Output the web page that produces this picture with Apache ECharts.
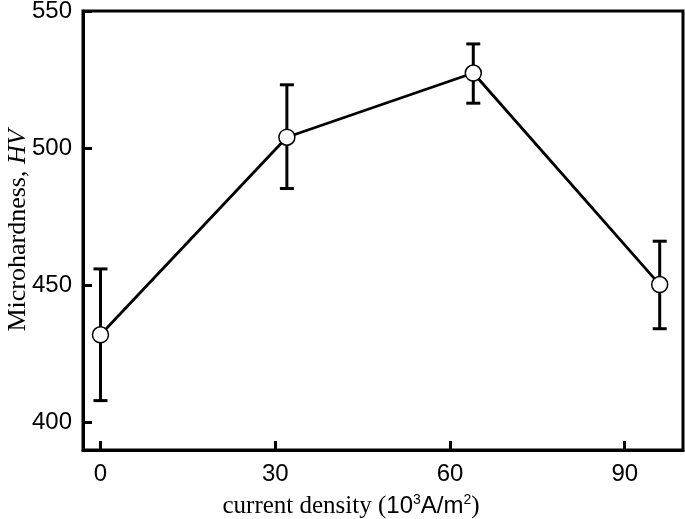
<!DOCTYPE html>
<html>
<head>
<meta charset="utf-8">
<script src="https://cdn.jsdelivr.net/npm/echarts@6/dist/echarts.min.js"></script>
<style>html,body{margin:0;padding:0;background:#fff;}#c{width:685px;height:519px;}</style>
</head>
<body>
<div id="c"></div>
<script>
var currentDensity = [0, 32, 64, 96];
var hardness = [432, 504, 527.4, 450.3];
var errLow = [408, 485.3, 516.4, 434.2];
var errHigh = [456, 523.1, 538, 466.1];
var xTicks = [0, 30, 60, 90];
var yTicks = [400, 450, 500, 550];

var chart = echarts.init(document.getElementById('c'), null, {renderer: 'canvas'});
var lineData = currentDensity.map(function (x, i) { return [x, hardness[i]]; });
var errData = currentDensity.map(function (x, i) { return [x, errLow[i], errHigh[i]]; });

var option = {
  animation: false,
  backgroundColor: '#fff',
  grid: {left: 83, right: 2, top: 11, bottom: 69, containLabel: false, outerBoundsMode: 'none',
    show: true, borderColor: '#000', borderWidth: 3, backgroundColor: 'transparent'},
  xAxis: {
    type: 'value', min: -3, max: 100,
    name: '{s|current density (}{a|10}{sup|3}{a|A/m}{sup|2}{s|)}',
    nameLocation: 'middle', nameGap: 43, nameMoveOverlap: false,
    nameTextStyle: {
      padding: [0, 64, 0, 0],
      rich: {
        s: {fontFamily: 'Liberation Serif', fontSize: 25, color: '#000'},
        a: {fontFamily: 'Liberation Sans', fontSize: 24, color: '#000'},
        sup: {fontFamily: 'Liberation Sans', fontSize: 14, color: '#000', verticalAlign: 'top', padding: [0, 0, 12, 0]}
      }
    },
    axisLine: {onZero: false, lineStyle: {color: '#000', width: 3}},
    axisTick: {inside: true, length: 9, lineStyle: {color: '#000', width: 3}, customValues: xTicks},
    axisLabel: {customValues: xTicks, color: '#000', fontFamily: 'Liberation Sans', fontSize: 24, margin: 12},
    splitLine: {show: false}
  },
  yAxis: {
    type: 'value', min: 390, max: 550,
    name: '{s|Microhardness, }{i|HV}',
    nameLocation: 'middle', nameGap: 52, nameRotate: 90, nameMoveOverlap: false,
    nameTextStyle: {
      rich: {
        s: {fontFamily: 'Liberation Serif', fontSize: 26, color: '#000'},
        i: {fontFamily: 'Liberation Serif', fontStyle: 'italic', fontSize: 26, color: '#000'}
      }
    },
    axisLine: {onZero: false, lineStyle: {color: '#000', width: 3}},
    axisTick: {inside: true, length: 9, lineStyle: {color: '#000', width: 3}, customValues: yTicks},
    axisLabel: {customValues: yTicks, color: '#000', fontFamily: 'Liberation Sans', fontSize: 24, margin: 11},
    splitLine: {show: false}
  },
  series: [
    {
      type: 'custom',
      z: 1,
      data: errData,
      renderItem: function (params, api) {
        var x = api.value(0);
        var lo = api.coord([x, api.value(1)]);
        var hi = api.coord([x, api.value(2)]);
        var hw = 7;
        var style = {stroke: '#000', lineWidth: 3, fill: null};
        return {
          type: 'group',
          children: [
            {type: 'line', shape: {x1: lo[0], y1: lo[1], x2: hi[0], y2: hi[1]}, style: style},
            {type: 'line', shape: {x1: lo[0] - hw, y1: lo[1], x2: lo[0] + hw, y2: lo[1]}, style: style},
            {type: 'line', shape: {x1: hi[0] - hw, y1: hi[1], x2: hi[0] + hw, y2: hi[1]}, style: style}
          ]
        };
      }
    },
    {
      type: 'line',
      z: 3,
      data: lineData,
      symbol: 'circle',
      symbolSize: 16,
      showAllSymbol: true,
      lineStyle: {color: '#000', width: 2.8},
      itemStyle: {color: '#fff', borderColor: '#000', borderWidth: 1.5}
    }
  ]
};
chart.setOption(option);
</script>
</body>
</html>
